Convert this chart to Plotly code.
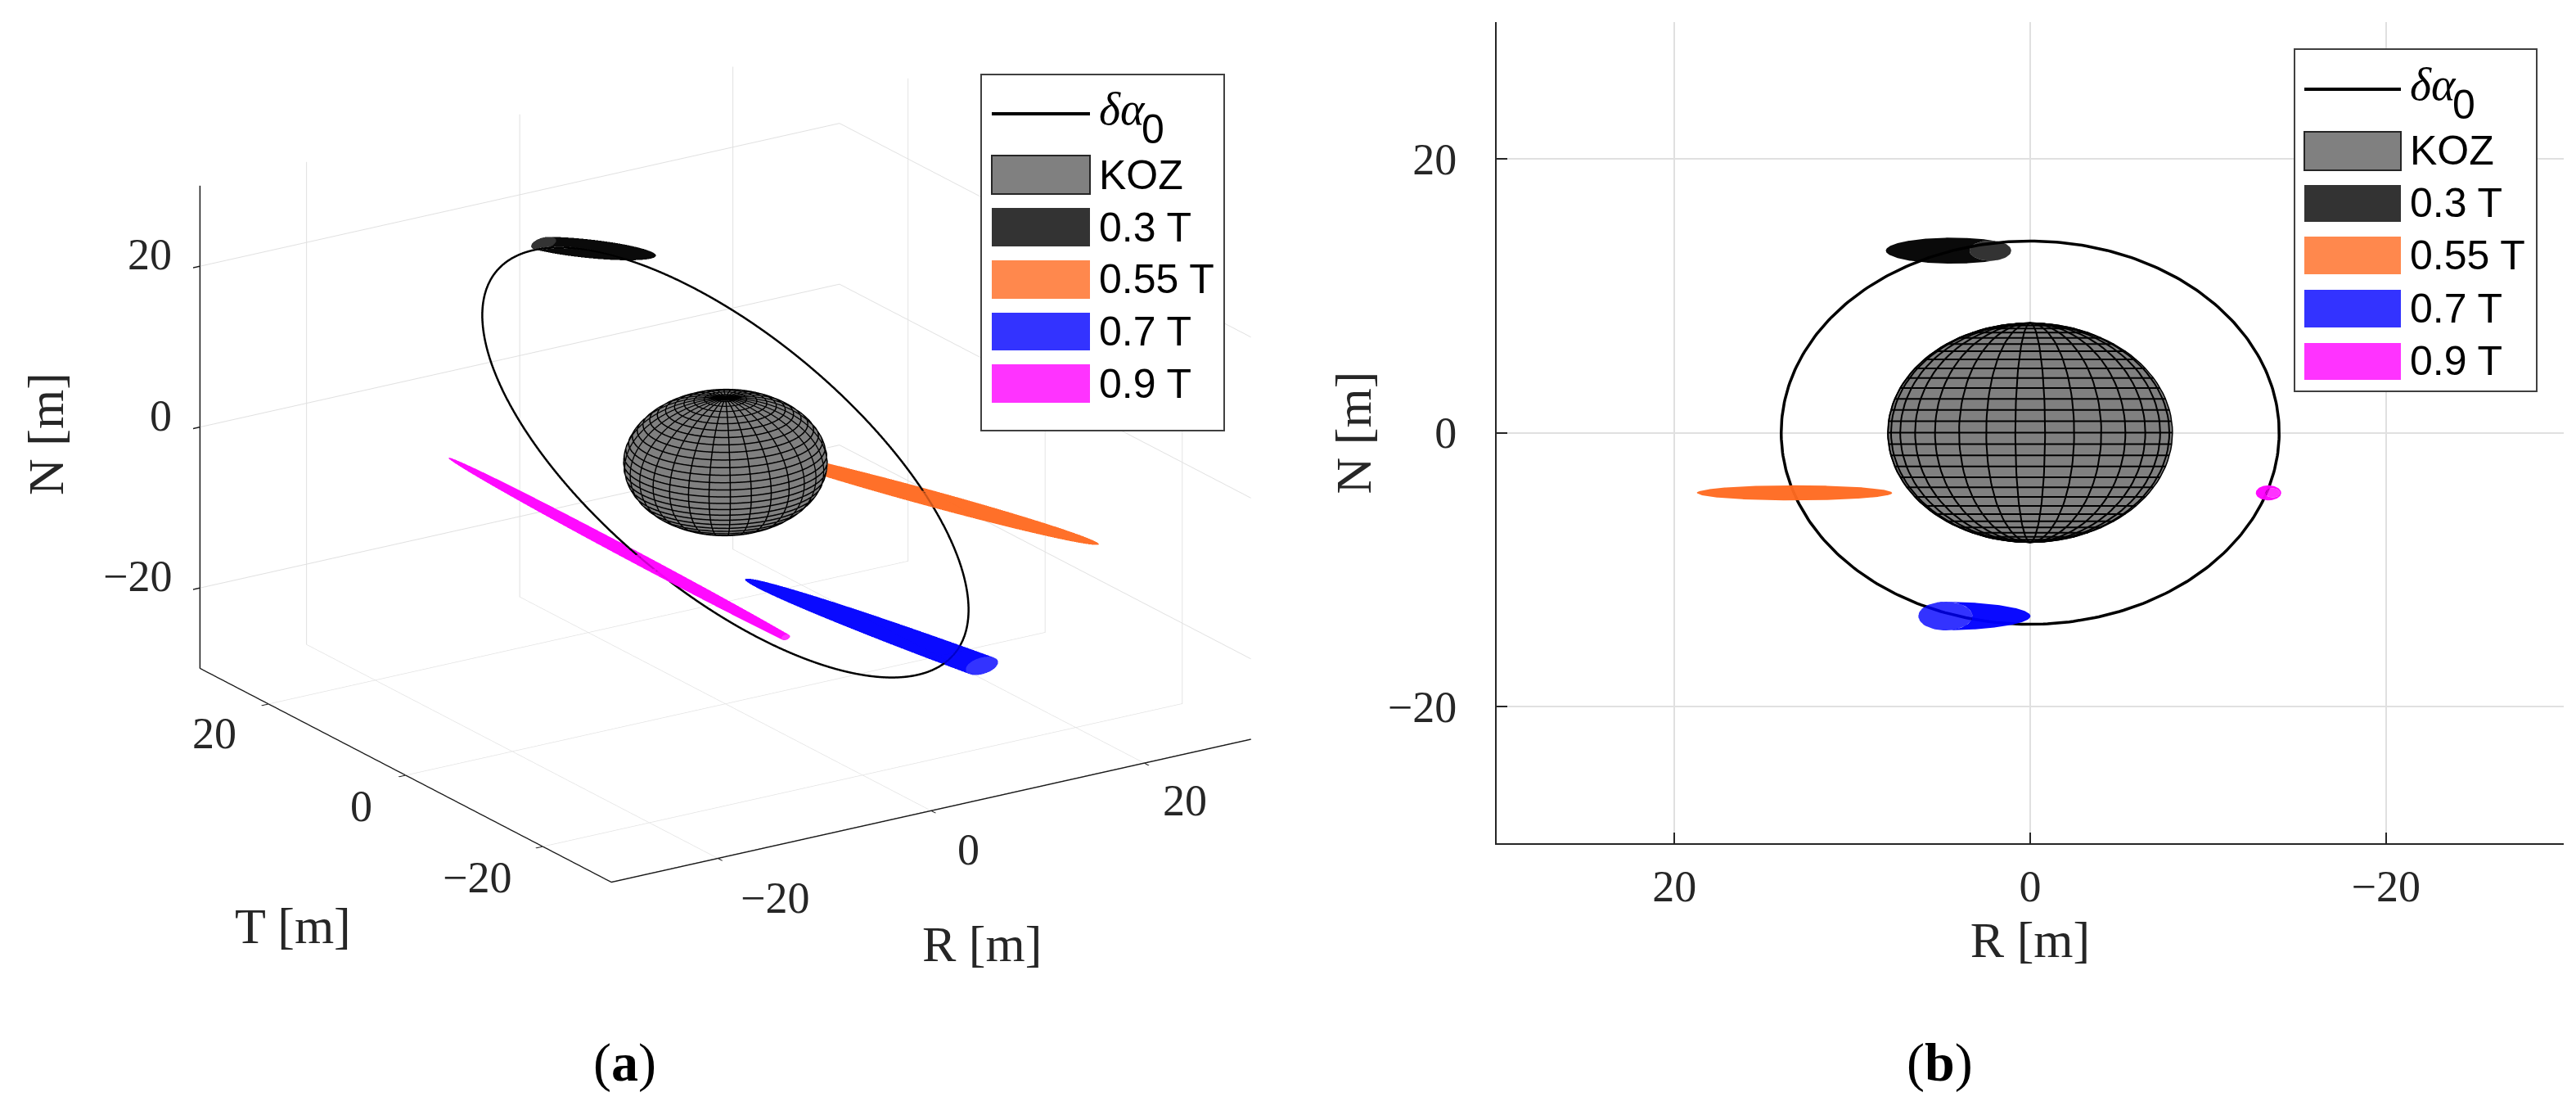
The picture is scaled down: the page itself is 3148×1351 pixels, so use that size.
import numpy as np
import plotly.graph_objects as go

W, H = 3148, 1351

# ---- values (metres) ----
AXIS_LIMIT = 30
TICKS = [-20, 0, 20]
KOZ_RADIUS = 8
KOZ_PANELS = 30
ORBIT_R_AMPLITUDE = 14
ORBIT_T_AMPLITUDE = 28
ORBIT_N_AMPLITUDE = 14

LEGEND_LABELS = ["KOZ", "0.3 T", "0.55 T", "0.7 T", "0.9 T"]
LEGEND_COLORS = ["#808080", "#333333", "#ff884d", "#3333ff", "#ff33ff"]

ELL_NAMES = ["0.3 T", "0.55 T", "0.7 T", "0.9 T"]
ELL_COLORS = ["#000000", "#ff6a20", "#0000ff", "#ff00ff"]
ELL_R = [4.4, 13.25, 5.1, -13.4]
ELL_T = [27.1, -8.6, -32.0, -8.0]
ELL_N = [13.3, -4.4, -13.4, -4.4]
ELL_HALF_R = [-3.6, -5.35, -4.9, 0.3]
ELL_HALF_T = [4.5, 16.9, 29.4, 28.0]
ELL_RADIUS_N = [0.95, 0.55, 1.05, 0.55]
ELL_RADIUS_W = [1.2, 1.3, 1.5, 0.65]
ALPHA = 0.8

# ---- geometry helpers ----
lim = AXIS_LIMIT


def ellipsoid(i, nu=60, nv=36):
    L = np.hypot(ELL_HALF_R[i], ELL_HALF_T[i])
    aR, aT = ELL_HALF_R[i] / L, ELL_HALF_T[i] / L
    pR, pT = aT, -aR
    th, ph = np.meshgrid(np.linspace(0, np.pi, nu), np.linspace(0, 2 * np.pi, nv), indexing="ij")
    x = L * np.cos(th)
    y = ELL_RADIUS_W[i] * np.sin(th) * np.cos(ph)
    z = ELL_RADIUS_N[i] * np.sin(th) * np.sin(ph)
    return ELL_R[i] + x * aR + y * pR, ELL_T[i] + x * aT + y * pT, ELL_N[i] + z


def clip_ring(i, T0, n=60):
    L = np.hypot(ELL_HALF_R[i], ELL_HALF_T[i])
    aR, aT = ELL_HALF_R[i] / L, ELL_HALF_T[i] / L
    pR, pT = aT, -aR
    w = ELL_RADIUS_W[i]
    dt = T0 - ELL_T[i]
    A = aR**2 / L**2 + pR**2 / w**2
    B = (aR * aT / L**2 + pR * pT / w**2) * dt
    C = dt**2 * (aT**2 / L**2 + pT**2 / w**2)
    k = 1 - C + B**2 / A
    if k <= 0:
        return None
    a = np.linspace(0, 2 * np.pi, n)
    return ELL_R[i] - B / A + np.sqrt(k / A) * np.cos(a), ELL_N[i] + ELL_RADIUS_N[i] * np.sqrt(k) * np.sin(a)


def hull(points):
    pts = sorted(set(points))
    def half(seq):
        out = []
        for p in seq:
            while len(out) > 1 and (out[-1][0] - out[-2][0]) * (p[1] - out[-2][1]) - (out[-1][1] - out[-2][1]) * (p[0] - out[-2][0]) <= 0:
                out.pop()
            out.append(p)
        return out[:-1]
    return half(pts) + half(pts[::-1])


u = np.linspace(0, 2 * np.pi, 361)
orbit_R = ORBIT_R_AMPLITUDE * np.cos(u)
orbit_T = ORBIT_T_AMPLITUDE * np.sin(u)
orbit_N = ORBIT_N_AMPLITUDE * np.sin(u)

lon = np.linspace(-np.pi, np.pi, KOZ_PANELS + 1)
lat = np.linspace(-np.pi / 2, np.pi / 2, KOZ_PANELS + 1)
LON, LAT = np.meshgrid(lon, lat)
koz_R = KOZ_RADIUS * np.cos(LAT) * np.cos(LON)
koz_T = KOZ_RADIUS * np.cos(LAT) * np.sin(LON)
koz_N = KOZ_RADIUS * np.sin(LAT)

wx, wy, wz = [], [], []
fine = np.linspace(-np.pi, np.pi, 121)
fine_lat = np.linspace(-np.pi / 2, np.pi / 2, 61)
grow = 1.004
for b in lat[1:-1]:
    wx += list(grow * KOZ_RADIUS * np.cos(b) * np.cos(fine)) + [None]
    wy += list(grow * KOZ_RADIUS * np.cos(b) * np.sin(fine)) + [None]
    wz += list(grow * KOZ_RADIUS * np.sin(b) * np.ones_like(fine)) + [None]
for l in lon[:-1]:
    wx += list(grow * KOZ_RADIUS * np.cos(fine_lat) * np.cos(l)) + [None]
    wy += list(grow * KOZ_RADIUS * np.cos(fine_lat) * np.sin(l)) + [None]
    wz += list(grow * KOZ_RADIUS * np.sin(fine_lat)) + [None]

fig = go.Figure()

# ---- panel (a): 3-D view ----
flat = dict(ambient=1, diffuse=0, specular=0, roughness=1, fresnel=0)
fig.add_trace(go.Surface(x=koz_R, y=koz_T, z=koz_N, surfacecolor=np.zeros_like(koz_R),
                         colorscale=[[0, "#808080"], [1, "#808080"]], showscale=False,
                         lighting=flat, hoverinfo="skip", name="KOZ", scene="scene"))
fig.add_trace(go.Scatter3d(x=wx, y=wy, z=wz, mode="lines", line=dict(color="#000000", width=3),
                           hoverinfo="skip", showlegend=False, scene="scene"))
fig.add_trace(go.Scatter3d(x=orbit_R, y=orbit_T, z=orbit_N, mode="lines", line=dict(color="#000000", width=5),
                           hoverinfo="skip", showlegend=False, name="δα0", scene="scene"))
for i, nm in enumerate(ELL_NAMES):
    ex, ey, ez = ellipsoid(i)
    fig.add_trace(go.Surface(x=ex, y=ey, z=ez, surfacecolor=np.zeros_like(ex),
                             colorscale=[[0, ELL_COLORS[i]], [1, ELL_COLORS[i]]], showscale=False,
                             opacity=ALPHA, lighting=flat, hoverinfo="skip", name=nm, scene="scene"))

# ---- panel (b): R-N plane ----
fig.add_trace(go.Scatter(x=KOZ_RADIUS * np.cos(fine), y=KOZ_RADIUS * np.sin(fine), mode="lines", fill="toself",
                         fillcolor="#808080", line=dict(color="#000000", width=1.5), hoverinfo="skip",
                         showlegend=False, name="KOZ"))
bx, by = [], []
for b in lat[1:-1]:
    bx += [-KOZ_RADIUS * np.cos(b), KOZ_RADIUS * np.cos(b), None]
    by += [KOZ_RADIUS * np.sin(b), KOZ_RADIUS * np.sin(b), None]
for l in lon[:-1]:
    if np.sin(l) >= 0:
        bx += list(KOZ_RADIUS * np.cos(fine_lat) * np.cos(l)) + [None]
        by += list(KOZ_RADIUS * np.sin(fine_lat)) + [None]
fig.add_trace(go.Scatter(x=bx, y=by, mode="lines", line=dict(color="#000000", width=2), hoverinfo="skip", showlegend=False))
fig.add_trace(go.Scatter(x=orbit_R, y=orbit_N, mode="lines", line=dict(color="#000000", width=3.5),
                         hoverinfo="skip", showlegend=False, name="δα0"))


def rgba(hexcol, a):
    c = hexcol.lstrip("#")
    return "rgba(%d,%d,%d,%.3f)" % (int(c[:2], 16), int(c[2:4], 16), int(c[4:], 16), a)


for i, nm in enumerate(ELL_NAMES):
    ex, ey, ez = ellipsoid(i, 200, 72)
    keep = np.abs(ey) <= lim
    points = [(float(a), float(b)) for a, b in zip(ex[keep], ez[keep])]
    ring = None
    for T0 in (lim, -lim):
        if ELL_T[i] - abs(ELL_HALF_T[i]) < T0 < ELL_T[i] + abs(ELL_HALF_T[i]):
            ring = clip_ring(i, T0)
    if ring is not None:
        points += [(float(a), float(b)) for a, b in zip(*ring)]
    h = hull(points)
    hx = [p[0] for p in h] + [h[0][0]]
    hy = [p[1] for p in h] + [h[0][1]]
    if ring is not None:
        hx += [None] + list(ring[0][::-1])
        hy += [None] + list(ring[1][::-1])
    fig.add_trace(go.Scatter(x=hx, y=hy, mode="lines", fill="toself", fillcolor=rgba(ELL_COLORS[i], 1 - (1 - ALPHA) ** 2),
                             line=dict(width=0), hoverinfo="skip", showlegend=False, name=nm))
    if ring is not None:
        fig.add_trace(go.Scatter(x=ring[0], y=ring[1], mode="lines", fill="toself", fillcolor=rgba(ELL_COLORS[i], ALPHA),
                                 line=dict(width=0), hoverinfo="skip", showlegend=False, name=nm))

# ---- layout ----
GRID = "#e0e0e0"
INK = "#262626"
SERIF = "Liberation Serif"
SANS = "Liberation Sans"
TICK_SIZE = 54
TITLE_SIZE = 62
LEG_SIZE = 50


def axis3d():
    return dict(range=[-lim, lim], tickmode="array", tickvals=TICKS, showticklabels=False, title=dict(text=""),
                showgrid=True, gridcolor=GRID, gridwidth=2, zeroline=False, showbackground=False,
                showspikes=False, showline=True, linecolor="#1a1a1a", linewidth=3, ticks="outside", ticklen=10,
                tickwidth=3, tickcolor="#1a1a1a")


def a3(x, y, z, text, dx, dy, size=TICK_SIZE):
    return dict(x=x, y=y, z=z, text=text, showarrow=False, xshift=dx, yshift=dy, xanchor="center", yanchor="middle",
                font=dict(family=SERIF, size=size, color=INK))


minus = "\u2212"
lab = lambda v: (minus + str(abs(v))) if v < 0 else str(v)
scene_ann = []
T_SHIFT = {-20: (-80, -38), 0: (-54, -38), 20: (-66, -36)}
R_SHIFT = {-20: (70, -48), 0: (46, -48), 20: (50, -46)}
for v in TICKS:
    scene_ann.append(dict(x=-lim, y=lim, z=v, text=lab(v), showarrow=False, xanchor="right", yanchor="middle",
                          xshift=-32, yshift=14, font=dict(family=SERIF, size=TICK_SIZE, color=INK)))
    scene_ann.append(a3(-lim, v, -lim, lab(v), *T_SHIFT[v]))
    scene_ann.append(a3(v, -lim, -lim, lab(v), *R_SHIFT[v]))
scene_ann.append(a3(-lim, 0, -lim, "T [m]", -138, -184, TITLE_SIZE))
scene_ann.append(a3(0, -lim, -lim, "R [m]", 62, -163, TITLE_SIZE))


def px_dom_x(a, b):
    return [a / W, b / W]


def px_dom_y(top, bottom):
    return [1 - bottom / H, 1 - top / H]


shapes, anns = [], []


def legend(x0, y0, x1, y1, sx0, sx1, tx, line_y, rows):
    shapes.append(dict(type="rect", xref="paper", yref="paper", x0=x0 / W, x1=x1 / W, y0=1 - y0 / H, y1=1 - y1 / H,
                       fillcolor="#ffffff", line=dict(color="#404040", width=2), layer="above"))
    shapes.append(dict(type="line", xref="paper", yref="paper", x0=sx0 / W, x1=sx1 / W, y0=1 - line_y / H, y1=1 - line_y / H,
                       line=dict(color="#000000", width=4), layer="above"))
    anns.append(dict(xref="paper", yref="paper", x=tx / W, y=1 - (line_y - 6) / H, xanchor="left", yanchor="middle", showarrow=False,
                     text="<i>δα</i>", font=dict(family=SERIF, size=LEG_SIZE + 6, color="#000000")))
    anns.append(dict(xref="paper", yref="paper", x=(tx + 52) / W, y=1 - (line_y + 19) / H, xanchor="left", yanchor="middle", showarrow=False,
                     text="0", font=dict(family=SANS, size=LEG_SIZE, color="#000000")))
    for (top, bottom), label, col in zip(rows, LEGEND_LABELS, LEGEND_COLORS):
        shapes.append(dict(type="rect", xref="paper", yref="paper", x0=sx0 / W, x1=sx1 / W, y0=1 - top / H, y1=1 - bottom / H,
                           fillcolor=col, layer="above",
                           line=dict(color="#262626" if label == "KOZ" else col, width=2 if label == "KOZ" else 0)))
        anns.append(dict(xref="paper", yref="paper", x=tx / W, y=1 - (top + bottom) / 2 / H, xanchor="left", yanchor="middle",
                         showarrow=False, text=label, font=dict(family=SANS, size=LEG_SIZE, color="#000000")))


legend(1199, 91, 1496, 526, 1212, 1332, 1341, 139, [(190, 237), (254, 301), (318, 365), (382, 428), (445, 492)])
legend(2804, 60, 3100, 478, 2816, 2934, 2943, 109, [(161, 208), (226, 271), (289, 335), (354, 400), (419, 464)])

anns.append(dict(xref="paper", yref="paper", x=56 / W, y=1 - 530 / H, text="N [m]", textangle=-90, showarrow=False,
                 xanchor="center", yanchor="middle", font=dict(family=SERIF, size=TITLE_SIZE, color=INK)))
anns.append(dict(xref="paper", yref="paper", x=763 / W, y=1 - 1298 / H, showarrow=False, text="(<b>a</b>)",
                 xanchor="center", yanchor="middle", font=dict(family=SERIF, size=66, color="#000000")))
anns.append(dict(xref="paper", yref="paper", x=2370 / W, y=1 - 1298 / H, showarrow=False, text="(<b>b</b>)",
                 xanchor="center", yanchor="middle", font=dict(family=SERIF, size=66, color="#000000")))

EYE_SCALE = 2.0
BOX_SCALE = 1.78
fig.update_layout(
    width=W, height=H, autosize=False, margin=dict(l=0, r=0, t=0, b=0), paper_bgcolor="#ffffff", plot_bgcolor="#ffffff",
    showlegend=False, hovermode=False,
    scene=dict(
        domain=dict(x=px_dom_x(200, 1573), y=px_dom_y(40, 1090)),
        xaxis=axis3d(), yaxis=axis3d(), zaxis=axis3d(),
        aspectmode="manual", aspectratio=dict(x=1 * BOX_SCALE, y=0.981 * BOX_SCALE, z=0.671 * BOX_SCALE),
        camera=dict(projection=dict(type="orthographic"), up=dict(x=0, y=0, z=1), center=dict(x=0, y=0, z=0),
                    eye=dict(x=-0.516 * EYE_SCALE, y=-0.787 * EYE_SCALE, z=0.341 * EYE_SCALE)),
        annotations=scene_ann, bgcolor="rgba(0,0,0,0)",
    ),
    xaxis=dict(domain=px_dom_x(1829, 3133), range=[lim, -lim], tickmode="array", tickvals=TICKS, ticktext=[lab(v) for v in TICKS],
               showgrid=True, gridcolor=GRID, gridwidth=2, zeroline=False, showline=True, linecolor=INK, linewidth=2,
               ticks="inside", ticklen=13, tickwidth=2, tickcolor=INK, tickfont=dict(family=SERIF, size=TICK_SIZE, color=INK),
               ticklabelstandoff=4,
               title=dict(text="R [m]", font=dict(family=SERIF, size=TITLE_SIZE, color=INK), standoff=14)),
    yaxis=dict(domain=px_dom_y(27, 1030), range=[-lim, lim], tickmode="array", tickvals=TICKS, ticktext=[lab(v) for v in TICKS],
               showgrid=True, gridcolor=GRID, gridwidth=2, zeroline=False, showline=True, linecolor=INK, linewidth=2,
               ticks="inside", ticklen=13, tickwidth=2, tickcolor=INK, tickfont=dict(family=SERIF, size=TICK_SIZE, color=INK),
               ticklabelstandoff=36,
               title=dict(text="N [m]", font=dict(family=SERIF, size=TITLE_SIZE, color=INK), standoff=0)),
    shapes=shapes, annotations=anns,
)

fig.write_html("out.html", config={"displayModeBar": False},
               post_script="document.body.style.margin='0';document.documentElement.style.overflow='hidden';")
